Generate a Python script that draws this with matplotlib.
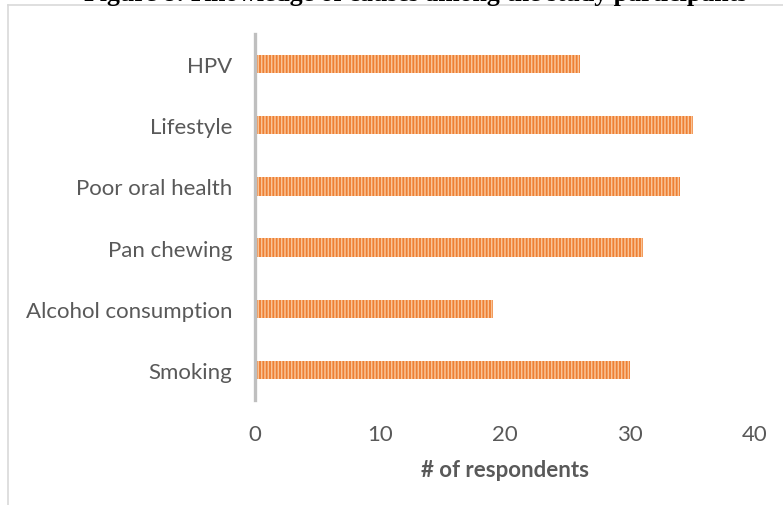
import matplotlib
matplotlib.use("Agg")
import matplotlib.pyplot as plt
from matplotlib.lines import Line2D

# Knowledge of causes among the study participants
categories = ["Smoking", "Alcohol consumption", "Pan chewing",
              "Poor oral health", "Lifestyle", "HPV"]
respondents = [30, 19, 31, 34, 35, 26]
x_ticks = [0, 10, 20, 30, 40]

W, H = 783, 506
fig = plt.figure(figsize=(W / 100, H / 100), dpi=100)
fig.patch.set_facecolor("white")

ax = fig.add_axes([255 / W, 1 - 401.5 / H, 500 / W, 367 / H])

plt.rcParams["hatch.linewidth"] = 1.1
ax.barh(range(len(categories)), respondents, height=0.3,
        color="#EE7F33", edgecolor="#F9C497", linewidth=0,
        hatch="|||||", zorder=2)

ax.set_xlim(0, 40)
ax.set_ylim(-0.5, len(categories) - 0.5)
ax.set_xticks(x_ticks)
ax.set_yticks(range(len(categories)))
ax.set_yticklabels(categories)

label_font = "Lato"
for lbl in ax.get_yticklabels() + ax.get_xticklabels():
    lbl.set_fontfamily(label_font)
    lbl.set_fontsize(16)
    lbl.set_color("#595959")

ax.tick_params(axis="both", length=0)
ax.tick_params(axis="y", pad=16.5)
ax.tick_params(axis="x", pad=17)

for side in ("top", "right", "bottom"):
    ax.spines[side].set_visible(False)
ax.spines["left"].set_color("#BFBFBF")
ax.spines["left"].set_linewidth(2.4)
ax.spines["left"].set_zorder(3)

ax.set_xlabel("# of respondents", fontfamily=label_font, fontsize=16,
              fontweight="bold", color="#595959", labelpad=11)

# Chart area frame
fig.add_artist(Line2D([8 / W, 1], [1 - 6 / H, 1 - 6 / H],
                      transform=fig.transFigure, color="#D9D9D9", lw=1.2))
fig.add_artist(Line2D([8 / W, 8 / W], [0, 1 - 6 / H],
                      transform=fig.transFigure, color="#D9D9D9", lw=1.2))

# Caption above the chart (runs off the top edge)
fig.text(416 / W, 1 - 1.0 / H,
         "Figure 8: Knowledge of causes among the study participants",
         ha="center", va="baseline", fontfamily="Liberation Serif",
         fontweight="bold", fontsize=18.5, color="black")

fig.savefig("out.png", dpi=100, facecolor="white")
